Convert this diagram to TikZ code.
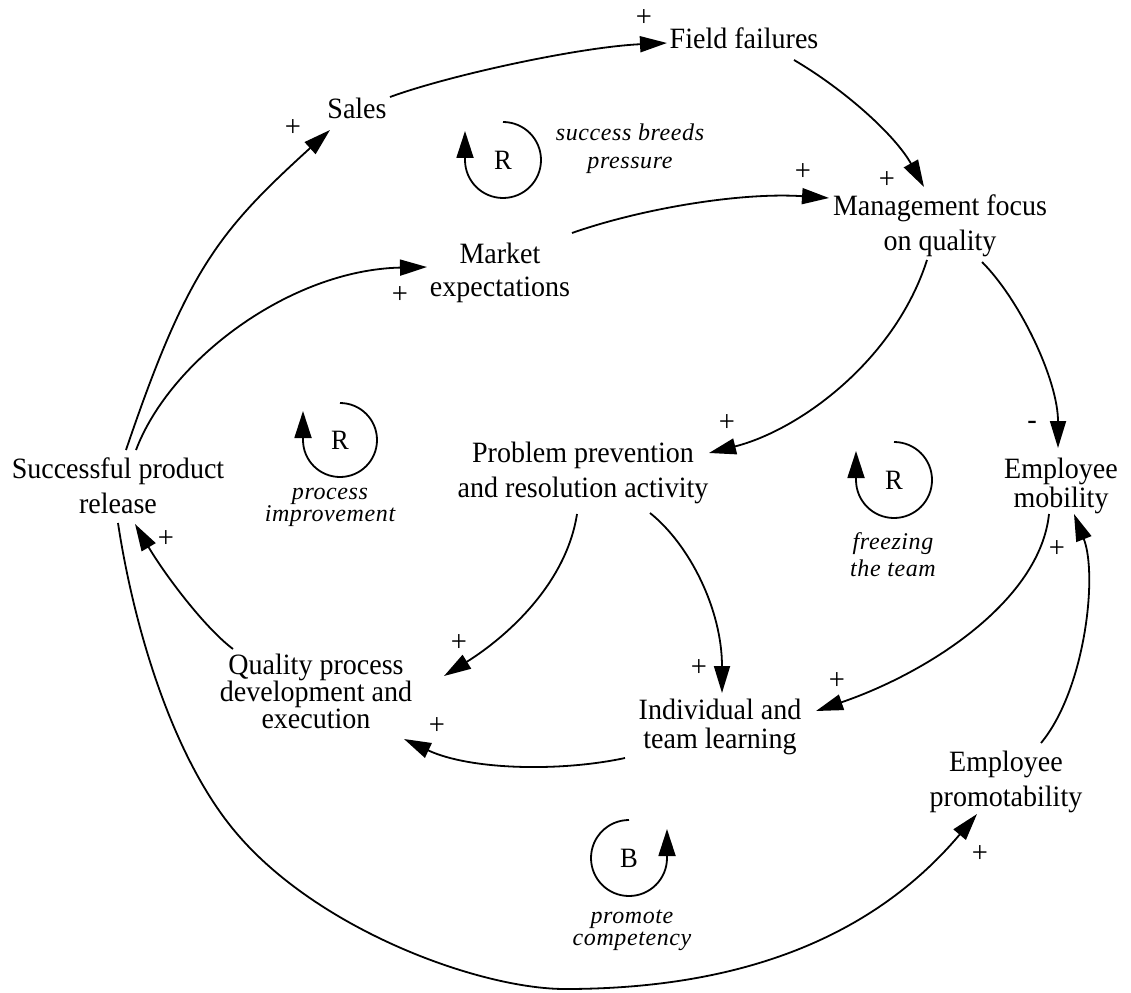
\documentclass[tikz,border=0pt]{standalone}
\usepackage{fontspec}
\setmainfont{Liberation Serif}[FakeStretch=0.95]
\newfontfamily\loopfont[LetterSpace=2.5]{Liberation Serif}
\usetikzlibrary{arrows.meta,calc}

\begin{document}
\begin{tikzpicture}[x=1pt,y=1pt,
  var/.style={align=center, inner sep=0pt, font=\fontsize{29.5}{35}\selectfont},
  polarity/.style={inner sep=0pt, font=\fontsize{30}{30}\selectfont},
  loopmark/.style={inner sep=0pt, font=\fontsize{28}{28}\selectfont},
  looptitle/.style={align=center, inner sep=0pt, font=\loopfont\itshape\fontsize{24}{28}\selectfont},
  link/.style={line width=1.8pt, -{Triangle[length=27pt,width=16pt]}},
  loopline/.style={line width=1.8pt, -{Triangle[length=27pt,width=17pt]}}
]
\fill[white] (0,0) rectangle (1131,-992);
\useasboundingbox (0,0) rectangle (1131,-992);

% variables
\node[var] (ff) at (744,-38) {Field failures};
\node[var] (sales) at (357,-108) {Sales};
\node[var, font=\fontsize{29.5}{33}\selectfont] (me) at (500,-273) {Market\\expectations};
\node[var] (mfq) at (940,-226) {Management focus\\on quality};
\node[var] (ppr) at (583,-473) {Problem prevention\\and resolution activity};
\node[var, font=\fontsize{29.5}{29}\selectfont] (em) at (1061,-486) {Employee\\mobility};
\node[var] (spr) at (118,-486) {Successful product\\release};
\node[var, font=\fontsize{29.5}{27}\selectfont] (qpd) at (316,-691) {Quality process\\development and\\execution};
\node[var, font=\fontsize{29.5}{29}\selectfont] (itl) at (720,-727) {Individual and\\team learning};
\node[var] (ep) at (1006,-782) {Employee\\promotability};

% causal links
\draw[link] ($(sales)+(33,11)$) .. controls (450,-75) and (580,-47) .. ($(ff)+(-77,-5)$);
\draw[link] ($(spr)+(8,36)$) .. controls (187,-270) and (219,-231) .. ($(sales)+(-27,-22)$);
\draw[link] ($(spr)+(18,36)$) .. controls (170,-360) and (290,-270) .. ($(me)+(-73,6)$);
\draw[link] ($(me)+(72,40)$) .. controls (640,-209) and (740,-192) .. ($(mfq)+(-111,28)$);
\draw[link] ($(ff)+(50,-22)$) .. controls (845,-90) and (895,-135) .. ($(mfq)+(-16,39)$);
\draw[link] ($(mfq)+(-13,-34)$) .. controls (895,-360) and (800,-430) .. ($(ppr)+(126,20)$);
\draw[link] ($(mfq)+(42,-36)$) .. controls (1020,-300) and (1058,-380) .. ($(em)+(-3,38)$);
\draw[link] ($(ppr)+(-6,-41)$) .. controls (566,-585) and (505,-638) .. ($(qpd)+(128,15)$);
\draw[link] ($(ppr)+(67,-40)$) .. controls (690,-545) and (722,-610) .. ($(itl)+(2,34)$);
\draw[link] ($(itl)+(-95,-31)$) .. controls (560,-772) and (470,-770) .. ($(qpd)+(88,-48)$);
\draw[link] ($(qpd)+(-83,42)$) .. controls (205,-628) and (165,-575) .. ($(spr)+(17,-38)$);
\draw[link] ($(em)+(-12,-28)$) .. controls (1040,-600) and (930,-672) .. ($(itl)+(96,16)$);
\draw[link] ($(ep)+(35,39)$) .. controls (1085,-690) and (1098,-575) .. ($(em)+(13,-28)$);
\draw[link] ($(spr)+(0,-37)$) .. controls (133,-622) and (170,-752) .. (233,-829)
  .. controls (315,-929.5) and (480,-989) .. (565,-989)
  .. controls (755,-989) and (880,-929) .. ($(ep)+(-29,-32)$);

% link polarities
\node[polarity] (p0) at (644,-18) {+};
\node[polarity] (p1) at (293,-128) {+};
\node[polarity] (p2) at (400,-295) {+};
\node[polarity] (p3) at (803,-172) {+};
\node[polarity] (p4) at (887,-180) {+};
\node[polarity] (p5) at (727,-423) {+};
\node[polarity] (p6) at (1032,-425) {-};
\node[polarity] (p7) at (459,-643) {+};
\node[polarity] (p8) at (699,-668) {+};
\node[polarity] (p9) at (437,-726) {+};
\node[polarity] (p10) at (166,-539) {+};
\node[polarity] (p11) at (837,-681) {+};
\node[polarity] (p12) at (1057,-549) {+};
\node[polarity] (p13) at (980,-854) {+};

% loop markers
\node[loopmark] (r1) at (503,-160) {R};
\draw[loopline] ($(r1)+(0,38)$) arc[start angle=90,end angle=-180,radius=38] -- ++(0,29);
\node[looptitle] (t1) at (630,-149) {success breeds\\pressure};

\node[loopmark] (r2) at (340,-440) {R};
\draw[loopline] ($(r2)+(0,37)$) arc[start angle=90,end angle=-180,radius=37] -- ++(0,29);
\node[looptitle, font=\loopfont\itshape\fontsize{24}{22}\selectfont] (t2) at (330,-507) {process\\improvement};

\node[loopmark] (r3) at (894,-480) {R};
\draw[loopline] ($(r3)+(0,38)$) arc[start angle=90,end angle=-180,radius=38] -- ++(0,29);
\node[looptitle, font=\loopfont\itshape\fontsize{24}{27}\selectfont] (t3) at (893,-555) {freezing\\the team};

\node[loopmark] (b1) at (629,-858) {B};
\draw[loopline] ($(b1)+(0,38)$) arc[start angle=90,end angle=360,radius=38] -- ++(0,29);
\node[looptitle, font=\loopfont\itshape\fontsize{24}{22}\selectfont] (t4) at (632,-930) {promote\\competency};
\end{tikzpicture}
\end{document}
